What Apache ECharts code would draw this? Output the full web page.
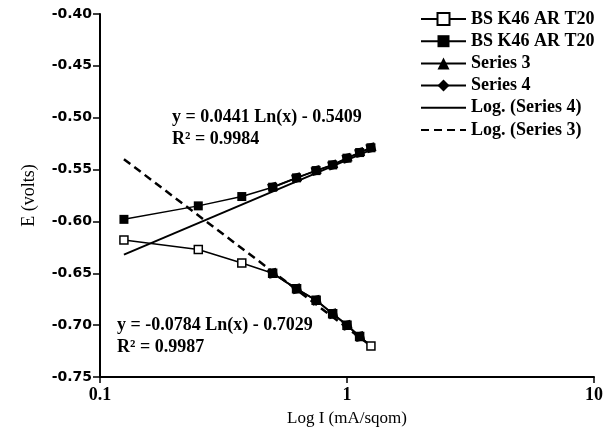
<!DOCTYPE html>
<html>
<head>
<meta charset="utf-8">
<script src="https://cdn.jsdelivr.net/npm/echarts@6/dist/echarts.min.js"></script>
<style>html,body{margin:0;padding:0;background:#fff}#c{width:606px;height:432px}</style>
</head>
<body>
<div id="c"></div>
<script>
// Current density (mA/sqom)
var currents = [0.125, 0.25, 0.375, 0.5, 0.625, 0.75, 0.875, 1.0, 1.125, 1.25];
// Series 1: BS K46 AR T20 (open squares) - cathodic branch
var cathodic = [-0.618, -0.627, -0.640, -0.650, -0.665, -0.676, -0.689, -0.700, -0.711, -0.720];
// Series 2: BS K46 AR T20 (filled squares) - anodic branch
var anodic = [-0.598, -0.585, -0.576, -0.567, -0.558, -0.551, -0.5455, -0.539, -0.5336, -0.529];
// Series 3 (Tafel region of cathodic branch)
var s3Currents = [0.5, 0.625, 0.75, 0.875, 1.0, 1.125];
var s3Values = [-0.650, -0.665, -0.676, -0.689, -0.700, -0.711];
// Series 4 (Tafel region of anodic branch)
var s4Currents = [0.5, 0.625, 0.75, 0.875, 1.0, 1.125, 1.25];
var s4Values = [-0.567, -0.558, -0.551, -0.5455, -0.539, -0.5336, -0.529];
// Trend line end points as drawn
var trend4X = [0.125, 1.25];
var trend4Y = [-0.632, -0.531];
var trend3X = [0.125, 1.25];
var trend3Y = [-0.540, -0.720];
// Axis ticks
var yTicks = [-0.75, -0.70, -0.65, -0.60, -0.55, -0.50, -0.45, -0.40];
var xTicks = [0.1, 1, 10];
// Names / annotations
var seriesNames = ['BS K46 AR T20', 'BS K46 AR T20 ', 'Series 3', 'Series 4', 'Log. (Series 4)', 'Log. (Series 3)'];
var eq4 = ['y = 0.0441 Ln(x) - 0.5409', 'R\u00B2 = 0.9984'];
var eq3 = ['y = -0.0784 Ln(x) - 0.7029', 'R\u00B2 = 0.9987'];

function zip(xs, ys) { return xs.map(function (x, i) { return [x, ys[i]]; }); }
function zipRect(xs, ys) { return xs.map(function (x, i) { return { value: [x, ys[i]], symbol: 'rect', symbolRotate: 15, symbolSize: 9 }; }); }

var SERIF = '"Liberation Serif","Times New Roman",serif';
var SANS = '"DejaVu Sans",Verdana,sans-serif';
var hidden = { color: 'rgba(0,0,0,0)', borderColor: 'rgba(0,0,0,0)', borderWidth: 0 };
var chart = echarts.init(document.getElementById('c'), null, { renderer: 'canvas' });
chart.setOption({
  backgroundColor: '#fff',
  animation: false,
  grid: { left: 100, right: 8, top: 14, bottom: 55, containLabel: false },
  legend: {
    orient: 'vertical', left: 415, top: 5, itemWidth: 45, itemHeight: 15, itemGap: 4.2,
    textStyle: { color: '#000', fontFamily: SERIF, fontWeight: 'bold', fontSize: 18, lineHeight: 18 },
    data: [
      { name: seriesNames[0] },
      { name: seriesNames[1] },
      { name: seriesNames[2] },
      { name: seriesNames[3] },
      { name: seriesNames[4], itemStyle: hidden },
      { name: seriesNames[5], itemStyle: hidden }
    ],
    formatter: function (n) { return n.trim(); }
  },
  xAxis: {
    type: 'log', logBase: 10, min: xTicks[0], max: xTicks[xTicks.length - 1],
    name: 'Log I (mA/sqom)', nameLocation: 'middle', nameGap: 33,
    nameTextStyle: { color: '#000', fontFamily: SERIF, fontSize: 17 },
    axisLine: { show: true, onZero: false, lineStyle: { color: '#000', width: 2 } },
    axisTick: { show: true, inside: false, length: 6, lineStyle: { color: '#000', width: 1.5 } },
    minorTick: { show: false },
    splitLine: { show: false },
    axisLabel: { color: '#000', fontFamily: SERIF, fontWeight: 'bold', fontSize: 18, margin: 9,
      formatter: function (v) { return String(+v.toPrecision(3)); } }
  },
  yAxis: {
    type: 'value', min: yTicks[0], max: yTicks[yTicks.length - 1], interval: 0.05,
    name: 'E (volts)', nameLocation: 'middle', nameGap: 62, nameRotate: 90,
    nameTextStyle: { color: '#000', fontFamily: SERIF, fontSize: 18 },
    axisLine: { show: true, onZero: false, lineStyle: { color: '#000', width: 2 } },
    axisTick: { show: true, inside: false, length: 7, lineStyle: { color: '#000', width: 1.5 } },
    splitLine: { show: false },
    axisLabel: { color: '#000', fontFamily: SANS, fontWeight: 'bold', fontSize: 14, margin: 8,
      formatter: function (v) { return v.toFixed(2); } }
  },
  series: [
    { name: seriesNames[0], type: 'line', data: zip(currents, cathodic), symbol: 'rect', symbolSize: 8,
      lineStyle: { color: '#000', width: 1.5 }, itemStyle: { color: '#fff', borderColor: '#000', borderWidth: 1.5 }, z: 2 },
    { name: seriesNames[1], type: 'line', data: zip(currents, anodic), symbol: 'rect', symbolSize: 9,
      lineStyle: { color: '#000', width: 1.5 }, itemStyle: { color: '#000' }, z: 3 },
    { name: seriesNames[2], type: 'line', data: zipRect(s3Currents, s3Values), symbol: 'triangle', symbolSize: 10,
      lineStyle: { color: '#000', width: 2 }, itemStyle: { color: '#000' }, z: 4 },
    { name: seriesNames[3], type: 'line', data: zipRect(s4Currents, s4Values), symbol: 'diamond', symbolSize: 10,
      lineStyle: { color: '#000', width: 2 }, itemStyle: { color: '#000' }, z: 4 },
    { name: seriesNames[4], type: 'line', data: zip(trend4X, trend4Y), symbol: 'none',
      lineStyle: { color: '#000', width: 2 }, itemStyle: { color: '#000' }, z: 1 },
    { name: seriesNames[5], type: 'line', data: zip(trend3X, trend3Y), symbol: 'none',
      lineStyle: { color: '#000', width: 2.5, type: [8, 5] }, itemStyle: { color: '#000' }, z: 1 }
  ],
  graphic: [
    { type: 'text', left: 172, top: 106, style: { text: eq4.join('\n'), fill: '#000', font: 'bold 18px ' + SERIF, lineHeight: 22 } },
    { type: 'text', left: 117, top: 314, style: { text: eq3.join('\n'), fill: '#000', font: 'bold 18px ' + SERIF, lineHeight: 22 } }
  ]
});
</script>
</body>
</html>
